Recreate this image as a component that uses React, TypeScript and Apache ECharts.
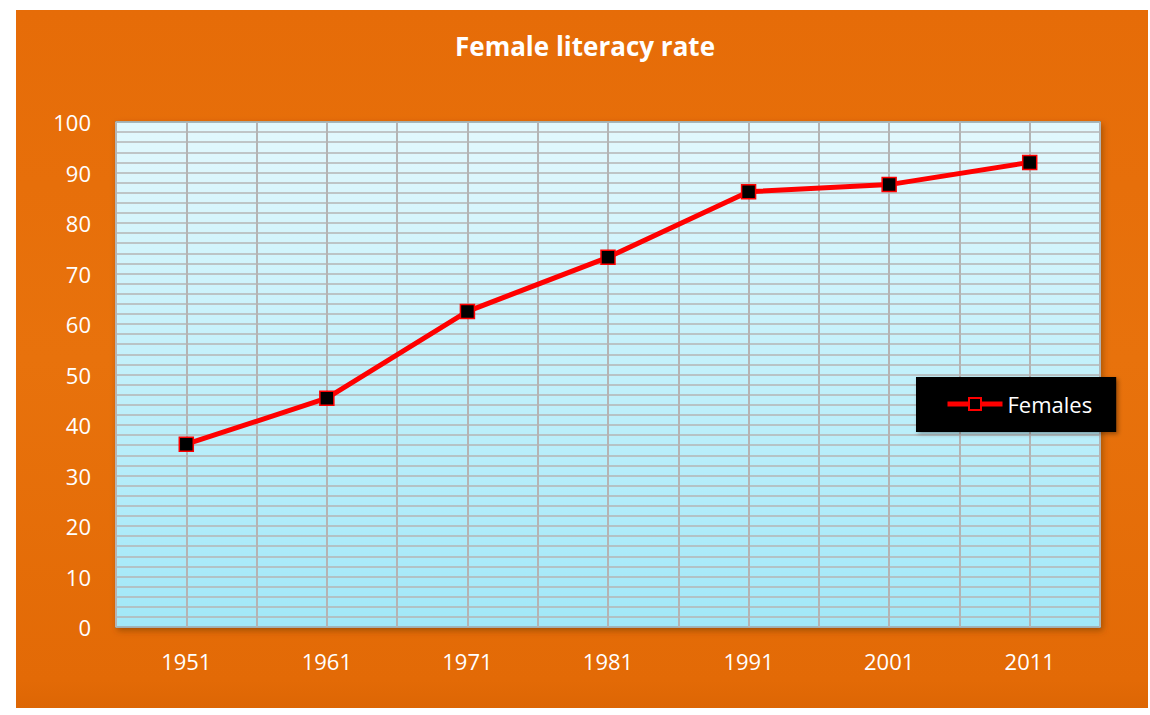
import React, { useEffect, useRef } from "react";
import * as echarts from "echarts";

const years = ["1951", "1961", "1971", "1981", "1991", "2001", "2011"];
const femaleRates = [36.2, 45.3, 62.5, 73.2, 86.2, 87.6, 92.0];
const yTicks = [0, 10, 20, 30, 40, 50, 60, 70, 80, 90, 100];
const seriesName = "Females";
const chartTitle = "Female literacy rate";

export default function App() {
  const ref = useRef<HTMLDivElement>(null);

  useEffect(() => {
    if (!ref.current) return;
    const chart = echarts.init(ref.current, undefined, { renderer: "svg" });
    const font = "'Open Sans', Lato, sans-serif";
    const data = years.map((y, i) => [Number(y), femaleRates[i]]);
    const yearSet = new Set(years);

    chart.setOption({
      animation: false,
      backgroundColor: "#ffffff",
      graphic: [
        {
          type: "rect",
          z: -10,
          shape: { x: 16, y: 10, width: 1132, height: 698 },
          style: {
            fill: new echarts.graphic.LinearGradient(0, 0, 0, 1, [
              { offset: 0, color: "#E66C08" },
              { offset: 0.5, color: "#E8720C" },
              { offset: 0.96, color: "#E36A06" },
              { offset: 1, color: "#DD6604" },
            ]),
          },
          silent: true,
        },
      ],
      title: {
        text: chartTitle,
        left: 580,
        top: 28,
        textAlign: "center",
        textStyle: {
          color: "#ffffff",
          fontFamily: font,
          fontWeight: "bold",
          fontSize: 26,
        },
      },
      grid: {
        left: 116,
        right: 50,
        top: 122,
        bottom: 88,
        show: true,
        borderColor: "#5AAFC4",
        borderWidth: 1.5,
        backgroundColor: new echarts.graphic.LinearGradient(0, 0, 0, 1, [
          { offset: 0, color: "#E2F8FD" },
          { offset: 1, color: "#A2E8F8" },
        ]),
        shadowColor: "rgba(120,60,0,0.6)",
        shadowBlur: 6,
        shadowOffsetX: 2,
        shadowOffsetY: 3,
      },
      legend: {
        data: [seriesName],
        left: 916,
        top: 377,
        padding: [16, 24, 17, 29],
        itemWidth: 55,
        itemHeight: 15,
        itemGap: 4,
        backgroundColor: "#000000",
        shadowColor: "rgba(0,0,0,0.35)",
        shadowBlur: 4,
        shadowOffsetX: 2,
        shadowOffsetY: 2,
        lineStyle: { width: 5 },
        textStyle: {
          color: "#ffffff",
          fontFamily: font,
          fontSize: 22,
        },
      },
      xAxis: {
        type: "value",
        min: 1946,
        max: 2016,
        interval: 5,
        axisLine: { show: false },
        axisTick: { show: false },
        axisLabel: {
          color: "#ffffff",
          fontFamily: font,
          fontSize: 22,
          margin: 23,
          showMinLabel: true,
          showMaxLabel: true,
          formatter: (v: number) => (yearSet.has(String(v)) ? String(v) : ""),
        },
        splitLine: {
          show: true,
          lineStyle: { color: "#B4B4B4", width: 2 },
        },
      },
      yAxis: {
        type: "value",
        min: yTicks[0],
        max: yTicks[yTicks.length - 1],
        interval: 10,
        axisLine: { show: false },
        axisTick: { show: false },
        axisLabel: {
          color: "#ffffff",
          fontFamily: font,
          fontSize: 22,
          margin: 25,
        },
        splitLine: {
          show: true,
          lineStyle: { color: "#B4B4B4", width: 1.6 },
        },
        minorTick: { show: false, splitNumber: 5 },
        minorSplitLine: {
          show: true,
          lineStyle: { color: "#B4B4B4", width: 1.6 },
        },
      },
      series: [
        {
          name: seriesName,
          type: "line",
          data,
          symbol: "rect",
          symbolSize: 14,
          lineStyle: { color: "#FF0000", width: 5 },
          itemStyle: { color: "#000000", borderColor: "#FF0000", borderWidth: 1.5 },
          z: 5,
        },
      ],
    });

    return () => chart.dispose();
  }, []);

  return (
    <div
      ref={ref}
      style={{ position: "fixed", left: 0, top: 0, width: 1150, height: 715 }}
    />
  );
}
